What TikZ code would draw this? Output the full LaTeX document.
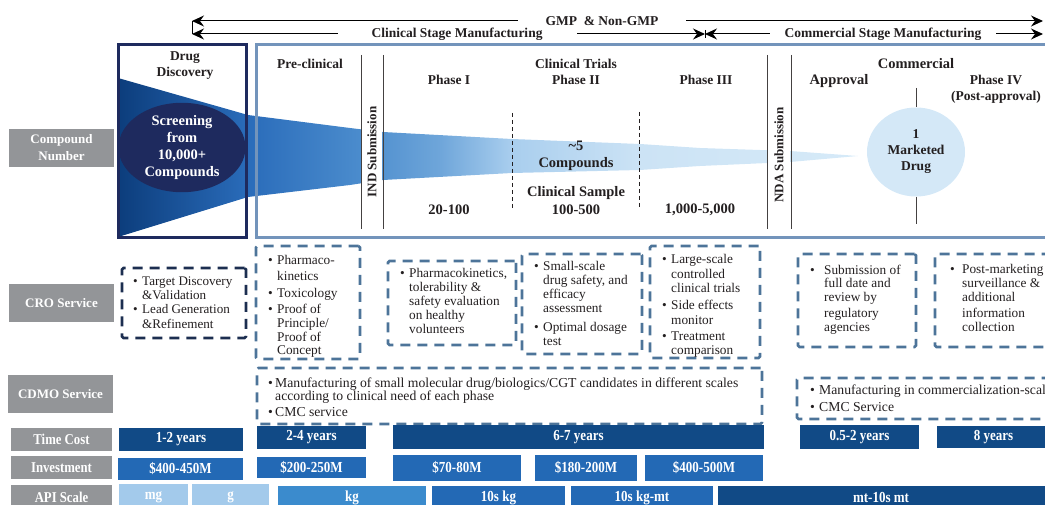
\documentclass[tikz,border=0pt]{standalone}
\usepackage{fontspec}
\setmainfont{Liberation Serif}
\newfontfamily\narrowfont[FakeStretch=0.85]{Liberation Serif}
\usetikzlibrary{shapes.geometric,arrows.meta}

\definecolor{navy}{HTML}{1E2A5E}
\definecolor{frameblue}{HTML}{7394BB}
\definecolor{dashblue}{HTML}{4D7499}
\definecolor{dashnavy}{HTML}{1C2E50}
\definecolor{labelgray}{HTML}{939598}
\definecolor{darkbar}{HTML}{114A86}
\definecolor{midbar}{HTML}{2369B5}
\definecolor{kgbar}{HTML}{3B8BCD}
\definecolor{lightbar}{HTML}{A3CAEB}
\definecolor{drugfill}{HTML}{D4E8F7}
\definecolor{ink}{HTML}{231F20}
\definecolor{fa}{HTML}{0C3D7C}
\definecolor{fb}{HTML}{2A6CBA}
\definecolor{fc}{HTML}{4B8CCD}
\definecolor{fd}{HTML}{6FA6DA}
\definecolor{fe}{HTML}{A9CEEE}
\definecolor{ff}{HTML}{CCE3F5}
\definecolor{fg}{HTML}{D6EAF8}

% narrowing compound funnel, dark on the left, pale at the tip
\pgfdeclarehorizontalshading{funnelshade}{100bp}{color(0bp)=(fa); color(25bp)=(fa);
  color(33.8bp)=(fb); color(41.4bp)=(fc); color(46.8bp)=(fd); color(51.6bp)=(fe);
  color(60.3bp)=(ff); color(75bp)=(fg); color(100bp)=(fg)}

% bullet and hanging indent for the service lists
\newcommand\bmark[1][9pt]{\makebox[#1][l]{\textbullet}}
\newcommand\bgap[1][9pt]{\hspace*{#1}}
% rectangle node given by its corners: name, style, x1, y1, x2, y2
\newcommand\cornerbox[6]{\node[#2, minimum width={#5-#3}, minimum height={#6-#4}] (#1) at ({(#3+#5)/2},{(#4+#6)/2})}

\tikzset{
  span/.style={{Stealth[length=12pt,width=11pt,inset=4pt]}-{Stealth[length=12pt,width=11pt,inset=4pt]}, line width=1pt},
  toplabel/.style={fill=white, inner ysep=1pt, text=ink, font=\bfseries\fontsize{13.5}{14}\selectfont},
  hdr/.style={inner sep=0, text=ink, align=center, font=\bfseries\fontsize{13.5}{16}\selectfont},
  bighdr/.style={hdr, font=\bfseries\fontsize{14.5}{16.5}\selectfont},
  body/.style={inner sep=0, text=ink, align=left, anchor=north west, font=\fontsize{13.3}{14.2}\selectfont},
  graylabel/.style={fill=labelgray, inner sep=0, text=white, align=center, font=\bfseries\fontsize{13}{17}\selectfont},
  rowlabel/.style={fill=labelgray, inner sep=0, text=white, font=\narrowfont\bfseries\fontsize{15}{15}\selectfont},
  bar/.style={inner sep=0, text=white, font=\narrowfont\bfseries\fontsize{15.3}{15}\selectfont},
  dbox/.style={draw=dashblue, line width=2.8pt, dash pattern=on 10pt off 7pt, rounded corners=1.5pt, inner sep=0},
  rule/.style={draw=ink!85, line width=0.9pt},
  phaserule/.style={draw=ink, line width=0.8pt, dash pattern=on 4pt off 3pt},
}

\begin{document}
\begin{tikzpicture}[x=1pt,y=-1pt]
\useasboundingbox (0,0) rectangle (1045,505);

% ---------- manufacturing spans ----------
\coordinate (gL) at (192,21);  \coordinate (gR) at (1043,21);
\coordinate (cL) at (192,34);  \coordinate (cM) at (705,34);  \coordinate (cR) at (1043,34);
\coordinate (tickT) at (705,30); \coordinate (tickB) at (705,38);
\draw[span] (gL) -- (gR);
\draw[span] (cL) -- (cM);
\draw[span] (cM) -- (cR);
\draw[line width=0.8pt] (gL) -- (cL);
\draw[line width=0.6pt] (tickT) -- (tickB);
\node[toplabel, inner xsep=28pt] (gmp) at (602,21) {GMP \ \& Non-GMP};
\node[toplabel, inner xsep=34pt] (csm) at (457,34) {Clinical Stage Manufacturing};
\node[toplabel, inner xsep=15pt] (msm) at (883,34) {Commercial Stage Manufacturing};

% ---------- compound funnel ----------
\shade[shading=funnelshade] (118,78) -- (248,115) -- (350,128) -- (383,132) -- (512,139)
  -- (640,144) -- (700,148) -- (790,151) -- (858,156) -- (790,162) -- (700,166)
  -- (640,170) -- (512,173) -- (383,180) -- (350,185) -- (248,197) -- (118,237) -- cycle;

% submission strips
\fill[white] (362,60) rectangle (382,225);
\fill[white] (768,60) rectangle (790,225);
\coordinate (i1t) at (361,55); \coordinate (i1b) at (361,229);
\coordinate (i2t) at (383,55); \coordinate (i2b) at (383,229);
\coordinate (n1t) at (767,55); \coordinate (n1b) at (767,229);
\coordinate (n2t) at (791,55); \coordinate (n2b) at (791,229);
\draw[rule] (i1t) -- (i1b);  \draw[rule] (i2t) -- (i2b);
\draw[rule] (n1t) -- (n1b);  \draw[rule] (n2t) -- (n2b);
\node[hdr, rotate=90, font=\bfseries\fontsize{13}{13}\selectfont] (ind) at (372,152) {IND Submission};
\node[hdr, rotate=90, font=\bfseries\fontsize{13}{13}\selectfont] (nda) at (779,155) {NDA Submission};

% phase separators
\coordinate (p1t) at (512,113); \coordinate (p1b) at (512,210);
\coordinate (p2t) at (639,112); \coordinate (p2b) at (639,209);
\draw[phaserule] (p1t) -- (p1b);
\draw[phaserule] (p2t) -- (p2b);

% ---------- stage frames ----------
\cornerbox{dd}{draw=navy, line width=3pt}{118.5}{44.5}{246.5}{237.5} {};
\cornerbox{clin}{draw=frameblue, line width=3pt}{256.5}{44.5}{1070}{237.5} {};

\node[ellipse, fill=navy, inner sep=0, minimum width=127, minimum height=75, text=white,
      align=center, font=\bfseries\fontsize{14.5}{16.7}\selectfont] (scr) at (182,147.5)
      {Screening\\from\\10,000+\\Compounds};

\node[ellipse, fill=drugfill, inner sep=0, minimum width=98, minimum height=89, text=ink,
      align=center, font=\bfseries\fontsize{13.5}{16}\selectfont] (mkt) at (916,152)
      {1\\Marketed\\Drug};
\coordinate (mt) at (916,88); \coordinate (mb) at (916,224);
\draw[rule] (mt) -- (mkt.north);
\draw[rule] (mkt.south) -- (mb);

% stage headings
\node[hdr] (hdd) at (185,66) {Drug\\Discovery};
\node[hdr] (hpre) at (310,64) {Pre-clinical};
\node[hdr] (hct) at (576,64) {Clinical Trials};
\node[hdr] (hp1) at (449,80) {Phase I};
\node[hdr] (hp2) at (576,80) {Phase II};
\node[hdr] (hp3) at (706,80) {Phase III};
\node[bighdr] (hcom) at (916,64) {Commercial};
\node[bighdr] (happ) at (839,81) {Approval};
\node[hdr] (hp4) at (996,89.5) {Phase IV\\(Post-approval)};

\node[bighdr] (five) at (576,156) {\textasciitilde5\\Compounds};
\node[bighdr] (csam) at (576,193) {Clinical Sample};
\node[bighdr] (n1) at (449,210) {20-100};
\node[bighdr] (n2) at (576,210) {100-500};
\node[bighdr] (n3) at (700,210) {1,000-5,000};

% ---------- row labels ----------
\cornerbox{lcn}{graylabel}{9}{129}{114}{167} {Compound\\Number};
\cornerbox{lcro}{graylabel}{9}{284}{114}{322} {CRO Service};
\cornerbox{lcdmo}{graylabel}{8}{375}{113}{413} {CDMO Service};

% ---------- CRO services ----------
\cornerbox{bt}{dbox, draw=dashnavy}{122}{268}{246}{338} {};
\cornerbox{bpre}{dbox}{256}{246}{360}{359} {};
\cornerbox{bp1}{dbox}{388}{261}{516}{345} {};
\cornerbox{bp2}{dbox}{522}{254}{642}{354} {};
\cornerbox{bp3}{dbox}{650}{246}{760}{358} {};
\cornerbox{bap}{dbox}{798}{254}{916}{347} {};
\cornerbox{bp4}{dbox}{935}{254}{1070}{347} {};

\node[body, font=\fontsize{13.1}{14.3}\selectfont] (tt) at (133,276.5)
  {\bmark Target Discovery\\ \bgap\&Validation\\ \bmark Lead Generation\\ \bgap\&Refinement};
\node[body, font=\fontsize{13.3}{14}\selectfont] (tpre) at (268,255)
  {\bmark Pharmaco-\\[2pt] \bgap kinetics\\[3pt] \bmark Toxicology\\[2pt] \bmark Proof of\\
   \bgap Principle/\\ \bgap Proof of\\[-1pt] \bgap Concept};
\node[body, font=\fontsize{13.3}{13.8}\selectfont] (tp1) at (400,268.5)
  {\bmark Pharmacokinetics,\\ \bgap tolerability \&\\ \bgap safety evaluation\\ \bgap on healthy\\ \bgap volunteers};
\node[body, font=\fontsize{13.3}{14}\selectfont] (tp2) at (534,261.5)
  {\bmark Small-scale\\ \bgap drug safety, and\\ \bgap efficacy\\ \bgap assessment\\[5pt]
   \bmark Optimal dosage\\ \bgap test};
\node[body, font=\fontsize{13.3}{14.3}\selectfont] (tp3) at (662,254.5)
  {\bmark Large-scale\\ \bgap controlled\\ \bgap clinical trials\\[3pt] \bmark Side effects\\
   \bgap monitor\\[2pt] \bmark Treatment\\ \bgap comparison};
\node[body, font=\fontsize{13.3}{13.8}\selectfont] (tap) at (810,264.5)
  {\bmark[14pt]Submission of\\ \bgap[14pt]full date and\\ \bgap[14pt]review by\\[2pt]
   \bgap[14pt]regulatory\\ \bgap[14pt]agencies};
\node[body, font=\fontsize{13.3}{13.8}\selectfont] (tp4) at (950,264.5)
  {\bmark[12pt]Post-marketing\\ \bgap[12pt]surveillance \&\\ \bgap[12pt]additional\\[2pt]
   \bgap[12pt]information\\ \bgap[12pt]collection};

% ---------- CDMO services ----------
\cornerbox{bc1}{dbox}{257}{368}{762}{424} {};
\cornerbox{bc2}{dbox}{797}{378}{1070}{419} {};
\node[body, font=\fontsize{13.7}{13.5}\selectfont] (tc1) at (268,377.5)
  {\bmark[7pt]Manufacturing of small molecular drug/biologics/CGT candidates in different scales\\
   \bgap[7pt]according to clinical need of each phase\\[2.5pt] \bmark[7pt]CMC service};
\node[body, font=\fontsize{13.7}{14}\selectfont] (tc2) at (810,384.5)
  {\bmark Manufacturing in commercialization-scale\\[3pt] \bmark CMC Service};

% ---------- time, investment and API scale ----------
\cornerbox{rtc}{rowlabel}{11}{428}{112}{451} {Time Cost};
\cornerbox{rinv}{rowlabel}{11}{456}{112}{479} {Investment};
\cornerbox{rapi}{rowlabel}{11}{485}{112}{510} {API Scale};

\cornerbox{t1}{bar, fill=darkbar}{119}{428}{243}{451} {1-2 years};
\cornerbox{t2}{bar, fill=darkbar}{257}{426}{366}{449} {2-4 years};
\cornerbox{t3}{bar, fill=darkbar}{393}{425}{764}{449} {6-7 years};
\cornerbox{t4}{bar, fill=darkbar}{800}{425}{919}{449} {0.5-2 years};
\cornerbox{t5}{bar, fill=darkbar}{937}{426}{1050}{448} {8 years};

\cornerbox{v1}{bar, fill=midbar}{118}{458}{243}{480} {\$400-450M};
\cornerbox{v2}{bar, fill=midbar}{257}{457}{366}{478} {\$200-250M};
\cornerbox{v3}{bar, fill=midbar}{393}{455}{521}{481} {\$70-80M};
\cornerbox{v4}{bar, fill=midbar}{535}{455}{637}{481} {\$180-200M};
\cornerbox{v5}{bar, fill=midbar}{645}{455}{763}{481} {\$400-500M};

\cornerbox{a1}{bar, fill=lightbar}{119}{484}{188}{510} {mg};
\cornerbox{a2}{bar, fill=lightbar}{192}{484}{269}{510} {g};
\cornerbox{a3}{bar, fill=kgbar}{278}{486}{426}{510} {kg};
\cornerbox{a4}{bar, fill=midbar}{432}{486}{565}{510} {10s kg};
\cornerbox{a5}{bar, fill=midbar}{571}{486}{713}{510} {10s kg-mt};
\cornerbox{a6}{bar, fill=darkbar}{718}{486}{1050}{510} {};
\node[bar] (a6t) at (881,497) {mt-10s mt};
\end{tikzpicture}
\end{document}
